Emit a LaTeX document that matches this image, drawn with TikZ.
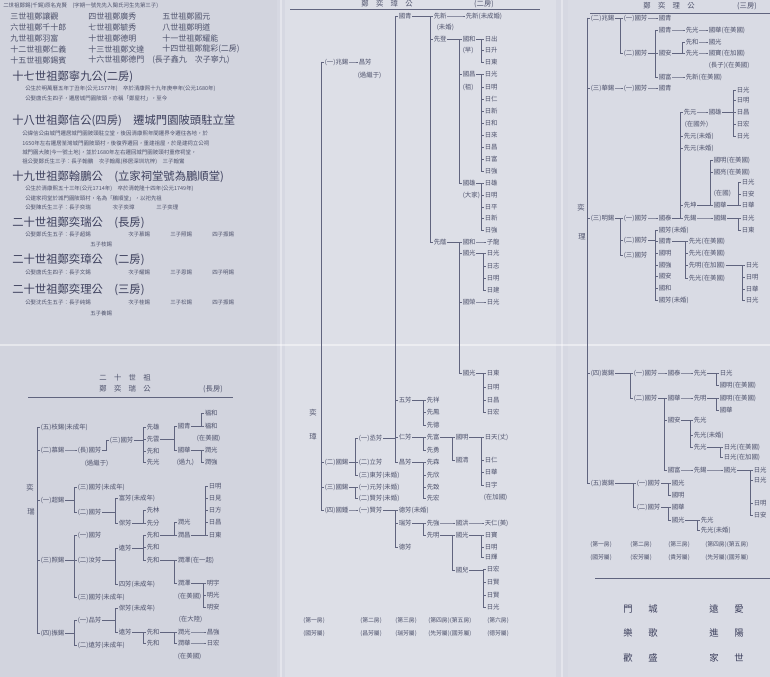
\documentclass[tikz,border=0pt]{standalone}
\usepackage{fontspec}
\newfontfamily\cjk{Noto Sans CJK TC}
\definecolor{bg}{RGB}{214,216,226}
\definecolor{pa}{RGB}{210,212,222}
\definecolor{pb}{RGB}{221,223,231}
\definecolor{pc}{RGB}{217,219,228}
\definecolor{ink}{RGB}{78,82,108}
\definecolor{inkd}{RGB}{60,63,92}
\definecolor{lin}{RGB}{96,100,126}
\tikzset{
 lbl/.style={anchor=west, inner sep=0.4pt, font=\cjk\fontsize{4.8}{5}\selectfont, text=ink},
 ln/.style={draw=lin, line width=0.45pt},
 vlab/.style={inner sep=0pt, font=\cjk\fontsize{5.5}{6}\selectfont, text=ink},
 head/.style={anchor=west, inner sep=0pt, font=\cjk\fontsize{8.5}{9}\selectfont, text=inkd},
 rowt/.style={anchor=west, inner sep=0pt, font=\cjk\fontsize{6}{7}\selectfont, text=ink},
 para/.style={anchor=west, inner sep=0pt, font=\cjk\fontsize{4.1}{5}\selectfont, text=ink},
 ttl/.style={inner sep=0pt, font=\cjk\fontsize{5.5}{6}\selectfont, text=ink},
 foot/.style={anchor=west, inner sep=0pt, font=\cjk\fontsize{4.4}{5}\selectfont, text=ink},
 bigc/.style={inner sep=0pt, font=\cjk\fontsize{7}{8}\selectfont, text=inkd},
 rule/.style={draw=lin, line width=0.6pt},
}
\newcommand\kids[3]{%
  \foreach \yy/\nn/\lab in {#3}{%
    \node[lbl] (\nn) at (#2+3,\yy) {\lab};
    \draw[ln] (#1.east) -| (#2,\yy) -- (\nn.west);
  }%
}
\newcommand\tkids[3]{%
  \foreach \yy/\nn/\lab in {#3}{%
    \node[lbl] (\nn) at (#2+3,\yy) {\lab};
    \draw[ln] (#1) |- (\nn.west);
  }%
}
\begin{document}
\begin{tikzpicture}[x=0.75pt,y=-0.75pt]
\useasboundingbox (0,0) rectangle (770,677);
% paper
\fill[bg] (0,0) rectangle (770,677);
\fill[pa] (0,0) rectangle (277,677);
\fill[pb] (285,0) rectangle (556,677);
\fill[pc] (568,0) rectangle (770,677);
\draw[white, opacity=0.45, line width=1.2pt] (0,345) -- (770,345);
\draw[white, opacity=0.35, line width=1.5pt] (281,0) -- (281,677);
\draw[white, opacity=0.35, line width=1.5pt] (562,0) -- (562,677);

% ---------------- left top text ----------------
\node[para] (t0) at (3,6) {二世祖鄭錫(千錫)原名克賢　(字期一號先先入閩氏河生先第三子)};
\node[rowt] (r11) at (10,16) {三世祖鄭讓觀};
\node[rowt] (r12) at (88,16) {四世祖鄭廣秀};
\node[rowt] (r13) at (162,16) {五世祖鄭國元};
\node[rowt] (r21) at (10,27) {六世祖鄭千十郎};
\node[rowt] (r22) at (88,27) {七世祖鄭毓秀};
\node[rowt] (r23) at (162,27) {八世祖鄭明道};
\node[rowt] (r31) at (10,38) {九世祖鄭羽富};
\node[rowt] (r32) at (88,38) {十世祖鄭德明};
\node[rowt] (r33) at (162,38) {十一世祖鄭耀能};
\node[rowt] (r41) at (10,49) {十二世祖鄭仁義};
\node[rowt] (r42) at (88,49) {十三世祖鄭文達};
\node[rowt] (r43) at (162,49) {十四世祖鄭龍彩(二房)};
\node[rowt] (r51) at (10,60) {十五世祖鄭錫賓};
\node[rowt] (r52) at (88,60) {十六世祖鄭德門　(長子鑫九　次子寧九)};

\node[head] (h1) at (12,77) {十七世祖鄭寧九公(二房)};
\node[para] (p11) at (25,89) {公生於明萬曆五年丁丑年(公元1577年)　卒於清康熙十九年庚申年(公元1680年)};
\node[para] (p12) at (25,98) {公娶唐氏生四子，遷居城門園陂頭，亦稱「鄭屋村」，至今};

\node[head] (h2) at (12,121) {十八世祖鄭信公(四房)　遷城門園陂頭駐立堂};
\node[para] (p21) at (22,133) {公諱信公由城門遷居城門園陂頭駐立堂，後因清康熙年間遷界令遷往各地，於};
\node[para] (p22) at (22,143) {1650年左右遷居荃灣城門園陂頭村，後復界遷回，重建祖屋，於是建祠立公祠};
\node[para] (p23) at (22,153) {城門園大陂(今一號土地)，並於1680年左右遷回城門園陂頭村重修祠堂，};
\node[para] (p24) at (22,162) {祖公娶鄭氏生三子：長子翰鵬　次子翰鳳(移居深圳坑梓)　三子翰鸞};

\node[head] (h3) at (12,177) {十九世祖鄭翰鵬公　(立家祠堂號為鵬順堂)};
\node[para] (p31) at (25,189) {公生於清康熙五十三年(公元1714年)　卒於清乾隆十四年(公元1749年)};
\node[para] (p32) at (25,198) {公建家祠堂於城門園陂頭村，名為「鵬順堂」，以祀先祖};
\node[para] (p33) at (25,207) {公娶陳氏生三子：長子奕瑞　　　　次子奕璋　　　　三子奕理};

\node[head] (h4) at (12,223) {二十世祖鄭奕瑞公　(長房)};
\node[para] (p41) at (25,234) {公娶鄭氏生五子：長子超錫};
\node[para] (p42) at (128,234) {次子慕錫};
\node[para] (p43) at (170,234) {三子照錫};
\node[para] (p44) at (212,234) {四子振錫};
\node[para] (p45) at (90,244) {五子枝錫};

\node[head] (h5) at (12,260) {二十世祖鄭奕璋公　(二房)};
\node[para] (p51) at (25,272) {公娶唐氏生四子：長子文錫};
\node[para] (p52) at (128,272) {次子耀錫};
\node[para] (p53) at (170,272) {三子恩錫};
\node[para] (p54) at (212,272) {四子明錫};

\node[head] (h6) at (12,290) {二十世祖鄭奕理公　(三房)};
\node[para] (p61) at (25,302) {公娶沈氏生五子：長子純錫};
\node[para] (p62) at (128,302) {次子桂錫};
\node[para] (p63) at (170,302) {三子松錫};
\node[para] (p64) at (212,302) {四子振錫};
\node[para] (p65) at (90,313) {五子養錫};

% ---------------- left bottom tree ----------------
\node[ttl] (Lt1) at (125,378) {二　十　世　祖};
\node[ttl] (Lt2) at (125,389) {鄭　奕　瑞　公};
\node[ttl] (Lt3) at (213,389) {(長房)};
\draw[rule] (28,397) -- (233,397);
\node[vlab] (Lv1) at (30,488) {奕};
\node[vlab] (Lv2) at (31,512) {瑞};
\coordinate (LT) at (37,427);
\tkids{LT}{37}{427/La1/{(五)枝錫(未成年)}, 450/La2/{(二)慕錫}, 500/La3/{(一)超錫}, 560/La4/{(三)照錫}, 633/La5/{(四)振錫}}
\kids{La2}{74}{450/Lb1/{(長)國芳}}
\node[lbl] (Ln1) at (84,463) {(過繼于)};
\kids{Lb1}{106}{440/Lc1/{(三)國芳}}
\kids{Lc1}{143}{427/Ld1/先雄, 439/Ld2/先雲, 451/Ld3/先和, 462/Ld4/先光}
\kids{Ld2}{174}{426/Le1/國青, 450/Le2/國華}
\kids{Le1}{201}{413/Lf1/福和, 426/Lf2/福和}
\node[lbl] (Ln2) at (196,438) {(在美國)};
\kids{Le2}{201}{450/Lf3/潤光, 462/Lf4/潤強}
\node[lbl] (Ln3) at (176,462) {(過九)};
\kids{La3}{74}{487/Lb2/{(三)國芳(未成年)}, 512/Lb3/{(二)國芳}}
\kids{Lb3}{115}{498/Lc2/{富芳(未成年)}, 523/Lc3/保芳}
\kids{Lc3}{143}{510/Ld5/先林, 523/Ld6/先分}
\kids{La4}{74}{535/Lb4/{(一)國芳}, 560/Lb5/{(二)汝芳}, 597/Lb6/{(三)國芳(未成年)}}
\kids{Lb5}{115}{548/Lc4/遠芳, 584/Lc5/{四芳(未成年)}}
\kids{Lc4}{143}{535/Ld7/先和, 547/Ld8/先和, 560/Ld9/先和}
\kids{Ld7}{174}{522/Le3/潤光, 535/Le4/潤昌}
\kids{Le4}{205}{486/Lf5/日明, 498/Lf6/日見, 510/Lf7/日方, 522/Lf8/日昌, 535/Lf9/日東}
\kids{Ld9}{174}{560/Le5/{潤澤(在一起)}, 583/Le6/潤澤}
\node[lbl] (Ln4) at (177,596) {(在美國)};
\kids{Le6}{203}{583/Lf10/明宇, 595/Lf11/明光, 607/Lf12/明安}
\kids{La5}{74}{620/Lb7/{(一)品芳}, 645/Lb8/{(二)遠芳(未成年)}}
\kids{Lb7}{115}{608/Lc6/{保芳(未成年)}, 632/Lc7/遠芳}
\kids{Lc7}{143}{632/Ld10/先和, 643/Ld11/先和}
\node[lbl] (Ln5) at (178,619) {(在大陸)};
\kids{Ld10}{174}{632/Le7/潤光, 643/Le8/潤華}
\kids{Le7}{203}{632/Lf13/昌強}
\kids{Le8}{203}{643/Lf14/日宏}
\node[lbl] (Ln6) at (177,656) {(在美國)};

% ---------------- middle tree ----------------
\node[ttl] (Mt1) at (387,4) {鄭　奕　璋　公};
\node[ttl] (Mt2) at (484,4) {(二房)};
\draw[rule] (290,9) -- (540,9);
\node[vlab] (Mv1) at (313,413) {奕};
\node[vlab] (Mv2) at (313,437) {璋};
\coordinate (MT) at (321,62);
\tkids{MT}{321}{62/Ma1/{(一)兆錫}, 462/Ma2/{(二)國錫}, 487/Ma3/{(三)國錫}, 510/Ma4/{(四)國鍾}}
\kids{Ma1}{355}{62/Mb1/昌芳}
\node[lbl] (Mn1) at (357,75) {(過繼于)};
\kids{Ma2}{355}{438/Mb2/{(一)丞芳}, 462/Mb3/{(二)立芳}, 475/Mb4/{(三)東芳(未婚)}}
\kids{Mb2}{395}{16/Mp1/國青, 400/Mp2/五芳, 437/Mp3/仁芳, 462/Mp4/昌芳}
\kids{Mp1}{430}{16/Mq1/先新, 39/Mq2/先登, 242/Mq3/先蔭}
\kids{Mq1}{462}{16/Mr0/{先新(未成婚)}}
\node[lbl] (Mn2) at (436,27) {(未婚)};
\kids{Mq2}{459}{39/Mr1/國和, 74/Mr2/國昌, 183/Mr3/國雄}
\node[lbl] (Mn3) at (462,51) {(早)};
\node[lbl] (Mn4) at (462,87) {(祖)};
\node[lbl] (Mn5) at (462,195) {(大家)};
\kids{Mr1}{481}{39/Ms1/日出, 50/Ms2/日升, 62/Ms3/日東}
\kids{Mr2}{481}{74/Ms4/日光, 87/Ms5/日明, 99/Ms6/日仁, 111/Ms7/日新, 123/Ms8/日和, 135/Ms9/日來, 147/Ms10/日昌, 159/Ms11/日富, 171/Ms12/日強}
\kids{Mr3}{481}{183/Ms13/日雄, 195/Ms14/日明, 207/Ms15/日平, 218/Ms16/日新, 230/Ms17/日強}
\kids{Mq3}{459}{242/Mr4/國和, 253/Mr5/國光, 302/Mr6/國榮, 373/Mr7/國光}
\kids{Mr4}{483}{242/Ms18/子龍}
\kids{Mr5}{483}{253/Ms19/日光, 266/Ms20/日志, 278/Ms21/日明, 290/Ms22/日建}
\kids{Mr6}{483}{302/Ms23/日光}
\kids{Mr7}{483}{373/Ms24/日東, 387/Ms25/日明, 400/Ms26/日昌, 412/Ms27/日宏}
\kids{Mp2}{423}{400/Mq4/先祥, 412/Mq5/先鳳, 425/Mq6/先德}
\kids{Mp3}{423}{437/Mq7/先富, 450/Mq8/先勇}
\kids{Mq7}{452}{437/Mr8/國明, 460/Mr9/國清}
\kids{Mr8}{481}{437/Ms28/{日天(丈)}, 460/Ms29/日仁, 472/Ms30/日華, 485/Ms31/日宇}
\node[lbl] (Mn6) at (483,497) {(在加國)};
\kids{Mp4}{423}{462/Mq9/先森, 475/Mq10/先欣, 487/Mq11/先致, 498/Mq12/先宏}
\kids{Ma3}{355}{487/Mb5/{(一)元芳(未婚)}, 498/Mb6/{(二)賢芳(未婚)}}
\kids{Ma4}{355}{510/Mb7/{(一)賢芳}}
\kids{Mb7}{395}{510/Mc1/{德芳(未婚)}, 523/Mc2/瑞芳, 547/Mc3/德芳}
\kids{Mc2}{423}{523/Md1/先強, 535/Md2/先明}
\kids{Md1}{452}{523/Me1/國洪}
\kids{Me1}{481}{523/Mf1/{天仁(美)}}
\kids{Md2}{452}{535/Me2/國光, 570/Me3/國兒}
\kids{Me2}{481}{535/Mf2/日寶, 547/Mf3/日明, 557/Mf4/日輝}
\kids{Me3}{483}{569/Mf5/日宏, 582/Mf6/日賢, 595/Mf7/日賢, 607/Mf8/日光}
\node[foot] (Mg1) at (303,621) {(第一房)};
\node[foot] (Mg2) at (360,621) {(第二房)};
\node[foot] (Mg3) at (395,621) {(第三房)};
\node[foot] (Mg4) at (428,621) {(第四房)(第五房)};
\node[foot] (Mg5) at (487,621) {(第六房)};
\node[foot] (Mh1) at (303,634) {(國芳屬)};
\node[foot] (Mh2) at (360,634) {(昌芳屬)};
\node[foot] (Mh3) at (395,634) {(瑞芳屬)};
\node[foot] (Mh4) at (428,634) {(先芳屬)(國芳屬)};
\node[foot] (Mh5) at (487,634) {(德芳屬)};

% ---------------- right tree ----------------
\node[ttl] (Rt1) at (669,6) {鄭　奕　理　公};
\node[ttl] (Rt2) at (747,6) {(三房)};
\draw[rule] (590,13) -- (770,13);
\node[vlab] (Rv1) at (581,208) {奕};
\node[vlab] (Rv2) at (582,237) {理};
\coordinate (RT) at (587,18);
\tkids{RT}{587}{18/Ra1/{(二)兆錫}, 88/Ra2/{(三)華錫}, 218/Ra3/{(三)明錫}, 373/Ra4/{(四)嵩錫}, 483/Ra5/{(五)嵩錫}}
\kids{Ra1}{620}{18/Rb1/{(一)國芳}, 53/Rb2/{(二)國芳}}
\kids{Rb1}{655}{18/Rc1/國青}
\kids{Rb2}{655}{30/Rc2/國青, 53/Rc3/國安, 77/Rc4/國富}
\kids{Rc2}{682}{30/Rd1/先光}
\kids{Rd1}{705}{30/Re1/{國華(在美國)}}
\kids{Rc3}{682}{42/Rd2/先和, 53/Rd3/先光}
\kids{Rd2}{705}{42/Re2/國光}
\kids{Rd3}{705}{53/Re3/{國寶(在加國)}}
\node[lbl] (Rn1) at (708,65) {(長子)(在美國)};
\kids{Rc4}{682}{77/Rd4/{先新(在美國)}}
\kids{Ra2}{620}{88/Rb3/{(一)國芳}}
\kids{Rb3}{655}{88/Rc5/國青}
\kids{Ra3}{620}{218/Rb4/{(一)國芳}, 240/Rb5/{(二)國芳}, 255/Rb6/{(三)國芳}}
\kids{Rb4}{655}{218/Rc6/國泰}
\kids{Rc6}{680}{112/Rd5/先元, 136/Rd6/{先元(未婚)}, 148/Rd7/{先元(未婚)}, 205/Rd8/先坤, 218/Rd9/先錫}
\node[lbl] (Rn2) at (684,124) {(在國外)};
\kids{Rd5}{705}{112/Re4/國雄}
\kids{Re4}{733}{90/Rf1/日光, 100/Rf2/日明, 112/Rf3/日昌, 124/Rf4/日宏, 136/Rf5/日光}
\kids{Rd8}{710}{160/Re5/{國明(在美國)}, 172/Re6/{國亮(在美國)}, 205/Re7/國華}
\node[lbl] (Rn3) at (713,193) {(在國)};
\kids{Re7}{738}{182/Rf6/日光, 194/Rf7/日安, 205/Rf8/日華}
\kids{Rd9}{710}{218/Re8/國錫}
\kids{Re8}{738}{218/Rf9/日光, 230/Rf10/日東}
\kids{Rb5}{655}{230/Rc7/{國芳(未婚)}, 241/Rc8/國青, 253/Rc9/國明, 265/Rc10/國強, 276/Rc11/國安, 288/Rc12/國和, 300/Rc13/{國芳(未婚)}}
\kids{Rc8}{685}{241/Rd10/{先光(在美國)}, 253/Rd11/{先光(在美國)}, 265/Rd12/{先明(在加國)}, 278/Rd13/{先光(在美國)}}
\kids{Rd12}{742}{265/Re9/日光, 277/Re10/日明, 289/Re11/日華, 300/Re12/日光}
\kids{Ra4}{630}{373/Rb7/{(一)國芳}, 398/Rb8/{(二)國芳}}
\kids{Rb7}{664}{373/Rc14/國泰}
\kids{Rc14}{690}{373/Rd14/先光}
\kids{Rd14}{716}{373/Re13/日光, 385/Re14/{國明(在美國)}}
\kids{Rb8}{664}{398/Rc15/國華, 420/Rc16/國安, 470/Rc17/國富}
\kids{Rc15}{690}{398/Rd15/先明}
\kids{Rd15}{716}{398/Re15/{國明(在美國)}, 410/Re16/國華}
\kids{Rc16}{690}{420/Rd16/先光, 435/Rd17/{先光(未婚)}, 447/Rd18/先光}
\kids{Rd18}{720}{447/Re17/{日光(在美國)}, 457/Re18/{日光(在加國)}}
\kids{Rc17}{690}{470/Rd19/先錫}
\kids{Rd19}{720}{470/Re19/國光}
\kids{Re19}{750}{470/Rf11/日光, 480/Rf12/日光, 503/Rf13/日明, 515/Rf14/日安}
\kids{Ra5}{633}{483/Rb9/{(一)國芳}, 507/Rb10/{(二)國芳}}
\kids{Rb9}{668}{483/Rc18/國光, 495/Rc19/國明}
\kids{Rb10}{668}{507/Rc20/國華, 520/Rc21/國光}
\kids{Rc21}{697}{520/Rd20/先光, 530/Rd21/{先光(未婚)}}
\node[foot] (Rg1) at (590,545) {(第一房)};
\node[foot] (Rg2) at (630,545) {(第二房)};
\node[foot] (Rg3) at (668,545) {(第三房)};
\node[foot] (Rg4) at (705,545) {(第四房)(第五房)};
\node[foot] (Rh1) at (590,558) {(國芳屬)};
\node[foot] (Rh2) at (630,558) {(宏芳屬)};
\node[foot] (Rh3) at (668,558) {(貴芳屬)};
\node[foot] (Rh4) at (705,558) {(先芳屬)(國芳屬)};
\draw[rule] (595,578) -- (770,578);
\node[bigc] (B1) at (628,609) {門};
\node[bigc] (B2) at (653,609) {城};
\node[bigc] (B3) at (714,609) {遠};
\node[bigc] (B4) at (739,609) {愛};
\node[bigc] (B5) at (628,633) {樂};
\node[bigc] (B6) at (653,633) {歌};
\node[bigc] (B7) at (714,633) {進};
\node[bigc] (B8) at (739,633) {陽};
\node[bigc] (B9) at (628,658) {歡};
\node[bigc] (B10) at (653,658) {盛};
\node[bigc] (B11) at (714,658) {家};
\node[bigc] (B12) at (739,658) {世};
\end{tikzpicture}
\end{document}
